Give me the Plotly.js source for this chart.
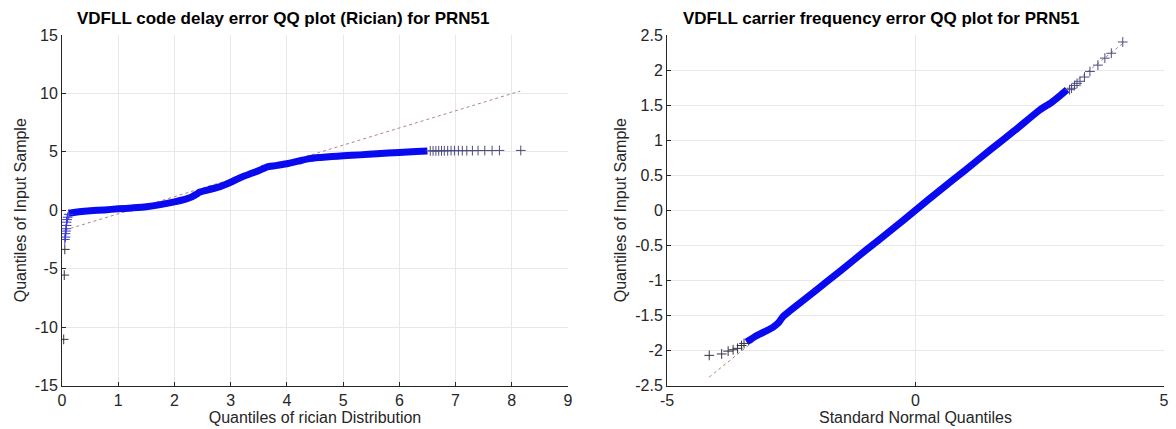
<!DOCTYPE html>
<html>
<head>
<meta charset="utf-8">
<script src="https://cdn.plot.ly/plotly-3.0.1.min.js"></script>
<style>html,body{margin:0;padding:0;background:#fff;}#chart{width:1176px;height:429px;}</style>
</head>
<body>
<div id="chart"></div>
<script>
// ---- Left panel: Rician QQ ----
const leftTitle = "VDFLL code delay error QQ plot (Rician) for PRN51";
const leftXTitle = "Quantiles of rician Distribution";
const leftYTitle = "Quantiles of Input Sample";
const leftOutX = [0.03, 0.04, 0.05];
const leftOutY = [-11.05, -5.55, -3.35];
const leftLowX = [0.05, 0.06, 0.06, 0.07, 0.07, 0.08, 0.08, 0.09, 0.10, 0.12];
const leftLowY = [-2.5, -2.3, -2.0, -1.78, -1.58, -1.3, -1.02, -0.8, -0.6, -0.35];
const leftBandX = [0.12, 0.3, 0.5, 0.75, 1.0, 1.25, 1.5, 1.75, 2.0, 2.2, 2.3, 2.4, 2.45, 2.6, 2.8, 3.0, 3.2, 3.4, 3.55, 3.65, 3.8, 4.0, 4.2, 4.4, 4.6, 4.8, 5.0, 5.3, 5.6, 6.0, 6.3, 6.5];
const leftBandY = [-0.25, -0.12, -0.05, 0.03, 0.12, 0.2, 0.3, 0.48, 0.72, 0.95, 1.12, 1.4, 1.55, 1.75, 2.0, 2.4, 2.85, 3.2, 3.5, 3.72, 3.82, 3.98, 4.2, 4.42, 4.52, 4.6, 4.66, 4.74, 4.84, 4.95, 5.02, 5.07];
const leftHighX = [6.55, 6.6, 6.65, 6.7, 6.75, 6.8, 6.86, 6.92, 6.98, 7.05, 7.12, 7.2, 7.3, 7.4, 7.52, 7.65, 7.78, 8.16];
const leftHighY = [5.08, 5.08, 5.08, 5.09, 5.09, 5.09, 5.09, 5.1, 5.1, 5.1, 5.1, 5.1, 5.1, 5.11, 5.11, 5.11, 5.12, 5.12];
const leftRefX = [0.05, 8.15];
const leftRefY = [-1.7, 10.2];
const leftXTicks = [0, 1, 2, 3, 4, 5, 6, 7, 8, 9];
const leftXLabels = ["0", "1", "2", "3", "4", "5", "6", "7", "8", "9"];
const leftYTicks = [-15, -10, -5, 0, 5, 10, 15];
const leftYLabels = ["-15", "-10", "-5", "0", "5", "10", "15"];

// ---- Right panel: Normal QQ ----
const rightTitle = "VDFLL carrier frequency error QQ plot for PRN51";
const rightXTitle = "Standard Normal Quantiles";
const rightYTitle = "Quantiles of Input Sample";
const rightLowX = [-4.15, -3.9, -3.77, -3.67, -3.58, -3.5, -3.45];
const rightLowY = [-2.07, -2.05, -2.01, -1.99, -1.97, -1.93, -1.9];
const rightBandX = [-3.4, -3.2, -3.0, -2.87, -2.75, -2.67, -2.5, -2.0, -1.5, -1.0, -0.5, 0, 0.5, 1.0, 1.5, 2.0, 2.5, 2.74, 2.9, 3.05];
const rightBandY = [-1.88, -1.79, -1.72, -1.67, -1.6, -1.52, -1.42, -1.14, -0.86, -0.57, -0.29, 0.0, 0.29, 0.57, 0.86, 1.14, 1.43, 1.54, 1.63, 1.72];
const rightHighX = [3.1, 3.14, 3.2, 3.25, 3.31, 3.4, 3.51, 3.67, 3.81, 3.94, 4.17];
const rightHighY = [1.72, 1.74, 1.78, 1.81, 1.84, 1.9, 1.98, 2.07, 2.17, 2.24, 2.40];
const rightRefX = [-4.15, 4.17];
const rightRefY = [-2.38, 2.38];
const rightXTicks = [-5, 0, 5];
const rightXLabels = ["-5", "0", "5"];
const rightYTicks = [-2.5, -2, -1.5, -1, -0.5, 0, 0.5, 1, 1.5, 2, 2.5];
const rightYLabels = ["-2.5", "-2", "-1.5", "-1", "-0.5", "0", "0.5", "1", "1.5", "2", "2.5"];

const BLUE = '#0a0af0';
const FONT = 'Arial, "Liberation Sans", Helvetica, sans-serif';
const TXT = '#262626';

function refTrace(x, y, xa, ya) {
  return {x: x, y: y, xaxis: xa, yaxis: ya, mode: 'lines', type: 'scatter',
    line: {color: 'rgba(170,125,125,0.95)', width: 1, dash: 'dot'}, hoverinfo: 'skip'};
}
function bandTrace(x, y, xa, ya) {
  return {x: x, y: y, xaxis: xa, yaxis: ya, mode: 'lines', type: 'scatter',
    line: {color: BLUE, width: 7, shape: 'spline', smoothing: 0.6}, hoverinfo: 'skip'};
}
function markTrace(x, y, xa, ya, col, sz) {
  return {x: x, y: y, xaxis: xa, yaxis: ya, mode: 'markers', type: 'scatter',
    marker: {symbol: 'cross-thin-open', size: sz, color: col, line: {color: col, width: 1}}, hoverinfo: 'skip'};
}

const traces = [
  refTrace(leftRefX, leftRefY, 'x', 'y'),
  bandTrace(leftBandX, leftBandY, 'x', 'y'),
  markTrace(leftLowX, leftLowY, 'x', 'y', '#3a3ad0', 7),
  markTrace(leftOutX, leftOutY, 'x', 'y', '#333344', 7),
  markTrace(leftHighX, leftHighY, 'x', 'y', '#4a4a80', 7),
  refTrace(rightRefX, rightRefY, 'x2', 'y2'),
  bandTrace(rightBandX, rightBandY, 'x2', 'y2'),
  markTrace(rightLowX, rightLowY, 'x2', 'y2', '#333344', 7),
  markTrace(rightHighX, rightHighY, 'x2', 'y2', '#4a4a80', 7)
];

function xAxis(dom, range, ticks, labels, title, anchor) {
  return {domain: dom, range: range, tickmode: 'array', tickvals: ticks, ticktext: labels, anchor: anchor,
    showgrid: true, gridcolor: '#e8e8e8', gridwidth: 1, zeroline: false,
    showline: true, linecolor: TXT, linewidth: 1, ticks: 'inside', ticklen: 4, tickcolor: TXT,
    tickfont: {family: FONT, size: 16, color: TXT},
    title: {text: title, font: {family: FONT, size: 16, color: TXT}, standoff: 2}};
}
function yAxis(dom, range, ticks, labels, title, anchor) {
  return {domain: dom, range: range, tickmode: 'array', tickvals: ticks, ticktext: labels, anchor: anchor,
    showgrid: true, gridcolor: '#e8e8e8', gridwidth: 1, zeroline: false,
    showline: true, linecolor: TXT, linewidth: 1, ticks: 'inside', ticklen: 4, tickcolor: TXT,
    tickfont: {family: FONT, size: 16, color: TXT},
    title: {text: title, font: {family: FONT, size: 16, color: TXT}, standoff: 4}};
}

const yDom = [1 - 385.5 / 429, 1 - 35 / 429];
const layout = {
  width: 1176, height: 429,
  margin: {l: 0, r: 0, t: 0, b: 0},
  paper_bgcolor: '#fff', plot_bgcolor: '#fff',
  showlegend: false,
  xaxis: xAxis([62 / 1176, 568 / 1176], [0, 9], leftXTicks, leftXLabels, leftXTitle, 'y'),
  yaxis: yAxis(yDom, [-15, 15], leftYTicks, leftYLabels, leftYTitle, 'x'),
  xaxis2: xAxis([667 / 1176, 1164 / 1176], [-5, 5], rightXTicks, rightXLabels, rightXTitle, 'y2'),
  yaxis2: yAxis(yDom, [-2.5, 2.5], rightYTicks, rightYLabels, rightYTitle, 'x2'),
  annotations: [
    {text: '<b>' + leftTitle + '</b>', xref: 'paper', yref: 'paper', x: 283 / 1176, y: 1 - 19 / 429,
     xanchor: 'center', yanchor: 'middle', showarrow: false, font: {family: FONT, size: 17, color: '#000'}},
    {text: '<b>' + rightTitle + '</b>', xref: 'paper', yref: 'paper', x: 881 / 1176, y: 1 - 19 / 429,
     xanchor: 'center', yanchor: 'middle', showarrow: false, font: {family: FONT, size: 17, color: '#000'}}
  ]
};

Plotly.newPlot('chart', traces, layout, {staticPlot: true, displayModeBar: false});
</script>
</body>
</html>
